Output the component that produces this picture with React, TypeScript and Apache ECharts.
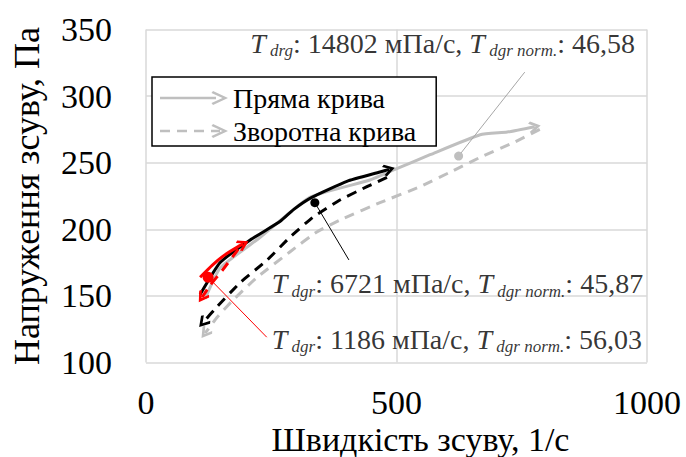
import React, { useEffect, useRef } from "react";
import * as echarts from "echarts";

const SERIF = "Liberation Serif";
const GRAY = "#BFBFBF";
const GRAY_DARK = "#A6A6A6";
const BLACK = "#000000";
const RED = "#FF0000";

// Axis ranges and titles
const X_MIN = 0;
const X_MAX = 1000;
const X_STEP = 500;
const Y_MIN = 100;
const Y_MAX = 350;
const Y_STEP = 50;
const X_TITLE = "Швидкість зсуву, 1/с";
const Y_TITLE = "Напруження зсуву, Па";
const LEGEND_FORWARD = "Пряма крива";
const LEGEND_REVERSE = "Зворотна крива";

// Flow curves: [shear rate, 1/s ; shear stress, Pa]
const grayForward = [
  [118, 148], [148, 171], [228, 194], [327, 224], [447, 237],
  [497, 245], [567, 256], [667, 271], [721, 273], [776, 277],
];
const grayReverse = [
  [786, 275], [733, 265], [667, 254], [613, 244], [547, 232],
  [467, 220], [393, 208], [341, 198], [287, 183], [222, 164],
  [174, 147], [142, 134], [118, 122],
];
const blackForward = [
  [108, 151], [148, 175], [208, 192], [268, 206], [295, 215], [331, 224],
  [401, 236], [467, 243], [485, 245],
];
const blackReverse = [
  [481, 239], [441, 232], [387, 222], [333, 209], [287, 194],
  [242, 177], [188, 160], [142, 142], [114, 130],
];
const redForward = [[108, 164], [132, 173], [158, 181], [184, 187], [194, 189]];
const redReverse = [[184, 185], [152, 169], [128, 158], [112, 149]];

// Thixotropy annotations: marked point, leader end, label anchor
const markerPoints = [[624, 255], [337, 220], [124, 164]];
const leaderEnds = [[756, 318], [405, 177], [241, 119]];
const labelAnchors = [[976, 339.5], [251, 159], [251, 117.6]];
const labelSubs = ["drg", "dgr", "dgr"];
const viscosities = ["14802", "6721", "1186"];
const normValues = ["46,58", "45,87", "56,03"];
const markerColors = [GRAY, BLACK, RED];
const leaderColors = [GRAY_DARK, BLACK, RED];
const markerSizes = [9, 9, 11];
const labelAligns = ["right", "left", "left"];

// Open arrowhead, drawn pointing up (rotated along the segment by ECharts)
const CHEVRON = "path://M7,0 L14,8.5 L12,10.5 L7,4.5 L2,10.5 L0,8.5 Z";
const ICON_SOLID =
  "path://M0,5.75h56v2.5h-56z M53,0 L68,7 L53,14 L51.5,12 L62.5,7 L51.5,2 Z";
const ICON_DASHED =
  "path://M0,5.75h10v2.5h-10z M17,5.75h10v2.5h-10z M34,5.75h10v2.5h-10z M51,5.75h9v2.5h-9z M53,0 L68,7 L53,14 L51.5,12 L62.5,7 L51.5,2 Z";

type Curve = { name: string; data: number[][]; color: string; dashed: boolean; z: number };

const curves: Curve[] = [
  { name: LEGEND_FORWARD, data: grayForward, color: GRAY, dashed: false, z: 2 },
  { name: LEGEND_REVERSE, data: grayReverse, color: GRAY, dashed: true, z: 2 },
  { name: "black-forward", data: blackForward, color: BLACK, dashed: false, z: 3 },
  { name: "black-reverse", data: blackReverse, color: BLACK, dashed: true, z: 3 },
  { name: "red-forward", data: redForward, color: RED, dashed: false, z: 4 },
  { name: "red-reverse", data: redReverse, color: RED, dashed: true, z: 4 },
];

function labelText(i: number) {
  return (
    `{t|T}{s| ${labelSubs[i]}}{n|: ${viscosities[i]} мПа/с, }` +
    `{t|T}{s| dgr norm.}{n|: ${normValues[i]}}`
  );
}

const richStyles = {
  t: { fontFamily: SERIF, fontStyle: "italic", fontSize: 28, lineHeight: 32, color: BLACK },
  s: {
    fontFamily: SERIF,
    fontStyle: "italic",
    fontSize: 17,
    lineHeight: 19,
    verticalAlign: "bottom",
    color: BLACK,
  },
  n: { fontFamily: SERIF, fontSize: 28, lineHeight: 32, color: BLACK },
};

export default function App() {
  const ref = useRef<HTMLDivElement>(null);

  useEffect(() => {
    document.body.style.margin = "0";
    if (!ref.current) return;
    const chart = echarts.init(ref.current, null, { renderer: "svg" });

    const lineSeries = curves.map((c) => ({
      type: "line",
      name: c.name,
      data: c.data,
      color: c.color,
      symbol: "none",
      showSymbol: false,
      silent: true,
      smooth: 0.15,
      z: c.z,
      lineStyle: {
        color: c.color,
        width: 3,
        type: c.dashed ? [10, 7] : "solid",
        cap: "butt",
        join: "round",
      },
    }));

    const option: any = {
      animation: false,
      backgroundColor: "#ffffff",
      textStyle: { fontFamily: SERIF },
      grid: {
        left: 146,
        right: 39,
        top: 29.5,
        bottom: 94.5,
        containLabel: false,
        outerBoundsMode: "none",
      },
      xAxis: {
        type: "value",
        min: X_MIN,
        max: X_MAX,
        interval: X_STEP,
        name: X_TITLE,
        nameLocation: "middle",
        nameGap: 63,
        nameMoveOverlap: false,
        nameTextStyle: {
          fontFamily: SERIF,
          fontSize: 34,
          lineHeight: 28,
          color: BLACK,
          padding: [0, 0, 0, 48],
        },
        axisLine: { show: false },
        axisTick: { show: false },
        axisLabel: {
          fontFamily: SERIF,
          fontSize: 34,
          lineHeight: 26,
          color: BLACK,
          margin: 27,
          formatter: (v: number) => String(v),
        },
        splitLine: { show: true, lineStyle: { color: "#D9D9D9", width: 1.5 } },
      },
      yAxis: {
        type: "value",
        min: Y_MIN,
        max: Y_MAX,
        interval: Y_STEP,
        name: Y_TITLE,
        nameLocation: "middle",
        nameGap: 101,
        nameMoveOverlap: false,
        nameTextStyle: { fontFamily: SERIF, fontSize: 36, color: BLACK },
        axisLine: { show: false },
        axisTick: { show: false },
        axisLabel: {
          fontFamily: SERIF,
          fontSize: 34,
          color: BLACK,
          margin: 34,
          formatter: (v: number) => String(v),
        },
        splitLine: { show: true, lineStyle: { color: "#D9D9D9", width: 1.5 } },
      },
      legend: {
        show: true,
        orient: "vertical",
        left: 152,
        top: 77,
        padding: [7, 20, 1, 8],
        itemGap: 5,
        itemWidth: 68,
        itemHeight: 14,
        itemStyle: { borderWidth: 0 },
        selectedMode: false,
        borderColor: BLACK,
        borderWidth: 1.5,
        backgroundColor: "#ffffff",
        textStyle: { fontFamily: SERIF, fontSize: 28, color: BLACK },
        data: [
          { name: LEGEND_FORWARD, icon: ICON_SOLID },
          { name: LEGEND_REVERSE, icon: ICON_DASHED },
        ],
        z: 20,
      },
      series: [
        ...lineSeries,
        {
          type: "lines",
          name: "arrowheads",
          coordinateSystem: "cartesian2d",
          silent: true,
          z: 6,
          symbol: ["none", CHEVRON],
          symbolSize: [15, 12],
          data: curves.map((c) => ({
            coords: c.data.slice(-2),
            lineStyle: { color: c.color, width: 0, opacity: 1 },
          })),
        },
        {
          type: "lines",
          name: "leaders",
          coordinateSystem: "cartesian2d",
          silent: true,
          z: 7,
          symbol: "none",
          data: markerPoints.map((p, i) => ({
            coords: [p, leaderEnds[i]],
            lineStyle: { color: leaderColors[i], width: 1, opacity: 1 },
          })),
        },
        {
          type: "scatter",
          name: "markers",
          silent: true,
          z: 8,
          symbol: "circle",
          data: markerPoints.map((p, i) => ({
            value: p,
            symbolSize: markerSizes[i],
            itemStyle: { color: markerColors[i], opacity: 1 },
          })),
        },
        {
          type: "scatter",
          name: "labels",
          silent: true,
          z: 9,
          symbolSize: 0,
          data: labelAnchors.map((p, i) => ({
            value: p,
            label: {
              show: true,
              position: [0, 0],
              align: labelAligns[i],
              verticalAlign: "middle",
              formatter: labelText(i),
              rich: richStyles,
            },
          })),
        },
      ],
    };

    chart.setOption(option);
    return () => chart.dispose();
  }, []);

  return <div ref={ref} style={{ width: 686, height: 457 }} />;
}
